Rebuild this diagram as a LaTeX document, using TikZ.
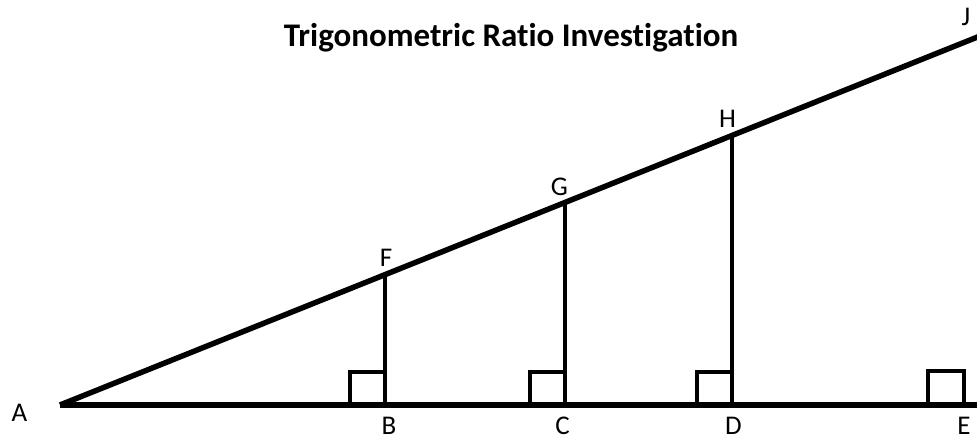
\documentclass[tikz,border=0pt]{standalone}
\usepackage{fontspec}
\setmainfont{Carlito}[Ligatures=NoCommon]
\begin{document}
\begin{tikzpicture}[x=1pt,y=-1pt,
  thickline/.style={line width=5.5pt},
  vline/.style={line width=3.2pt},
  sq/.style={draw,line width=3.5pt},
  lbl/.style={font=\fontsize{27}{29}\selectfont, inner sep=0pt}]
\useasboundingbox (0,0) rectangle (977,440);
% points
\coordinate (A) at (60,405);
\coordinate (J) at (980,36);
\coordinate (Eend) at (980,405);
\coordinate (B) at (385,405);
\coordinate (C) at (565,405);
\coordinate (D) at (732,405);
\coordinate (F) at (385,274.7);
\coordinate (G) at (565,202.5);
\coordinate (H) at (732,135.5);
% right-angle squares
\draw[sq] (350,405) rectangle (385,372);
\draw[sq] (530,405) rectangle (565,372);
\draw[sq] (697,405) rectangle (732,372);
\draw[sq] (928,405) rectangle (964,371);
% verticals
\draw[vline] (B) -- (F);
\draw[vline] (C) -- (G);
\draw[vline] (D) -- (H);
% main lines
\draw[thickline] (A) -- (Eend);
\draw[thickline] (A) -- (J);
% labels
\node[lbl] (lA) at (19.5,412.5) {A};
\node[lbl] (lB) at (389,425.5) {B};
\node[lbl] (lC) at (562.5,425.5) {C};
\node[lbl] (lD) at (733.5,425.5) {D};
\node[lbl] (lE) at (964,425.5) {E};
\node[lbl] (lF) at (386,257.5) {F};
\node[lbl] (lG) at (559.5,186.5) {G};
\node[lbl] (lH) at (727.5,118.5) {H};
\node[lbl] (lJ) at (966,16.5) {J};
\node[font=\bfseries\fontsize{33}{36}\selectfont, inner sep=0pt] (title) at (511,38) {Trigonometric Ratio Investigation};
\end{tikzpicture}
\end{document}
